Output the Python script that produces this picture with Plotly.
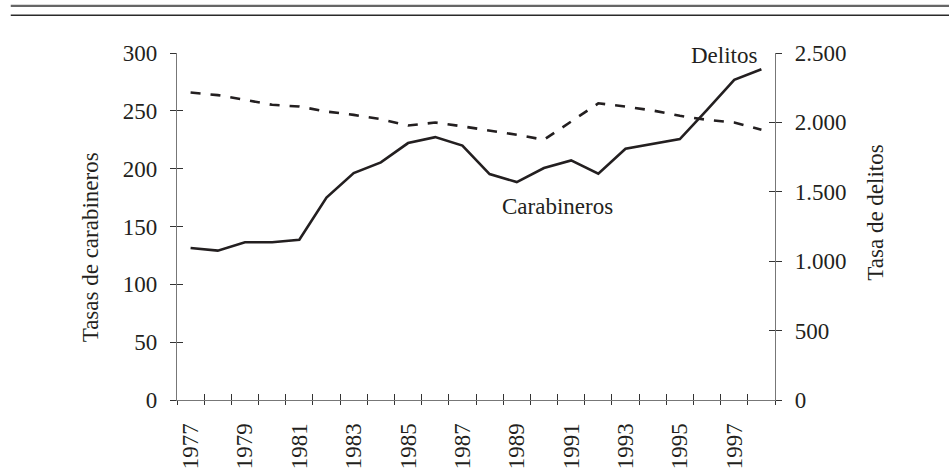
import plotly.graph_objects as go

# yearly rates, 1977-1998
years = list(range(1977, 1999))
carabineros = [265.8, 263.6, 259.5, 255.2, 253.7, 249.4, 246.5, 242.8, 237.3, 239.9, 236.6,
               233.2, 229.3, 225.0, 240.5, 256.5, 253.7, 250.3, 245.7, 242.2, 239.9, 233.6]
delitos = [1095, 1076, 1136, 1136, 1155, 1458, 1635, 1712, 1851, 1894, 1833,
           1628, 1570, 1671, 1726, 1630, 1810, 1846, 1880, 2091, 2307, 2383]

year_ticks = list(range(1977, 1999, 2))
year_labels = [str(y) for y in year_ticks]
left_ticks = [0, 50, 100, 150, 200, 250, 300]
right_ticks = [0, 500, 1000, 1500, 2000, 2500]
right_labels = ["0", "500", "1.000", "1.500", "2.000", "2.500"]

FONT = "Liberation Serif"
INK = "#231f20"
AXIS = "#777777"
TICK = "#333333"

# tick marks sit between the years (category boundaries)
bounds = [y - 0.5 for y in years] + [years[-1] + 0.5]
xrange_ = [years[0] - 0.5, years[-1] + 0.5]

fig = go.Figure()
fig.add_trace(go.Scatter(x=years, y=carabineros, mode="lines", yaxis="y",
                         line=dict(color=INK, width=2.6, dash="10px,10px")))
fig.add_trace(go.Scatter(x=years, y=delitos, mode="lines", yaxis="y2",
                         line=dict(color=INK, width=2.6)))
# empty traces so the overlay axes (inner half of the crossing ticks) get drawn
fig.add_trace(go.Scatter(x=[], y=[], xaxis="x2", yaxis="y3"))
fig.add_trace(go.Scatter(x=[], y=[], xaxis="x", yaxis="y4"))

common = dict(showgrid=False, zeroline=False, automargin=False)

fig.update_layout(
    width=949, height=470,
    margin=dict(l=177, r=174, t=53, b=70),
    paper_bgcolor="white", plot_bgcolor="white",
    showlegend=False,
    font=dict(family=FONT, size=23, color=INK),
    xaxis=dict(range=xrange_, **common,
               showline=True, linecolor=AXIS, linewidth=1.3,
               tickmode="array", tickvals=year_ticks, ticktext=year_labels,
               ticks="", tickangle=-90, ticklabelstandoff=13,
               minor=dict(tickmode="array", tickvals=bounds, ticks="outside",
                          ticklen=4, tickcolor=TICK, tickwidth=1.3)),
    xaxis2=dict(range=xrange_, overlaying="x", anchor="y", **common,
                showline=False, showticklabels=False,
                tickmode="array", tickvals=bounds, ticks="inside",
                ticklen=6, tickcolor=TICK, tickwidth=1.3),
    yaxis=dict(range=[0, 300], **common,
               showline=True, linecolor=AXIS, linewidth=1.3,
               tickmode="array", tickvals=left_ticks, ticks="outside",
               ticklen=6, tickcolor=TICK, tickwidth=1.3, ticklabelstandoff=8),
    yaxis2=dict(range=[0, 2500], overlaying="y", side="right", anchor="x", **common,
                showline=True, linecolor=AXIS, linewidth=1.3,
                tickmode="array", tickvals=right_ticks, ticktext=right_labels,
                ticks="outside", ticklen=6, tickcolor=TICK, tickwidth=1.3,
                ticklabelstandoff=8),
    yaxis3=dict(range=[0, 300], overlaying="y", side="left", anchor="x2", **common,
                showline=False, showticklabels=False,
                tickmode="array", tickvals=left_ticks, ticks="inside",
                ticklen=6, tickcolor=TICK, tickwidth=1.3),
    yaxis4=dict(range=[0, 2500], overlaying="y", side="right", anchor="x", **common,
                showline=False, showticklabels=False,
                tickmode="array", tickvals=right_ticks, ticks="inside",
                ticklen=6, tickcolor=TICK, tickwidth=1.3),
)

# axis titles and series labels
fig.add_annotation(text="Tasas de carabineros", xref="paper", yref="paper",
                   x=-0.1455, y=0.44, textangle=-90, showarrow=False,
                   xanchor="center", yanchor="middle")
fig.add_annotation(text="Tasa de delitos", xref="paper", yref="paper",
                   x=1.169, y=0.54, textangle=-90, showarrow=False,
                   xanchor="center", yanchor="middle")
fig.add_annotation(text="Carabineros", x=1990.5, y=167, xref="x", yref="y",
                   showarrow=False)
fig.add_annotation(text="Delitos", x=years[-1], y=2480, xref="x", yref="y2",
                   showarrow=False, xanchor="right", xshift=-2)

# double rule across the top of the page
fig.add_shape(type="line", xref="paper", yref="paper", x0=-0.278, x1=1.3,
              y0=1.136, y1=1.136, line=dict(color="#666666", width=2.2))
fig.add_shape(type="line", xref="paper", yref="paper", x0=-0.278, x1=1.3,
              y0=1.109, y1=1.109, line=dict(color="#2a2a2a", width=1.6))

# drop the browser's default page margin so the figure sits at the top-left corner
fig.write_html("out.html", config={"displayModeBar": False},
               post_script="document.body.style.margin='0';")
